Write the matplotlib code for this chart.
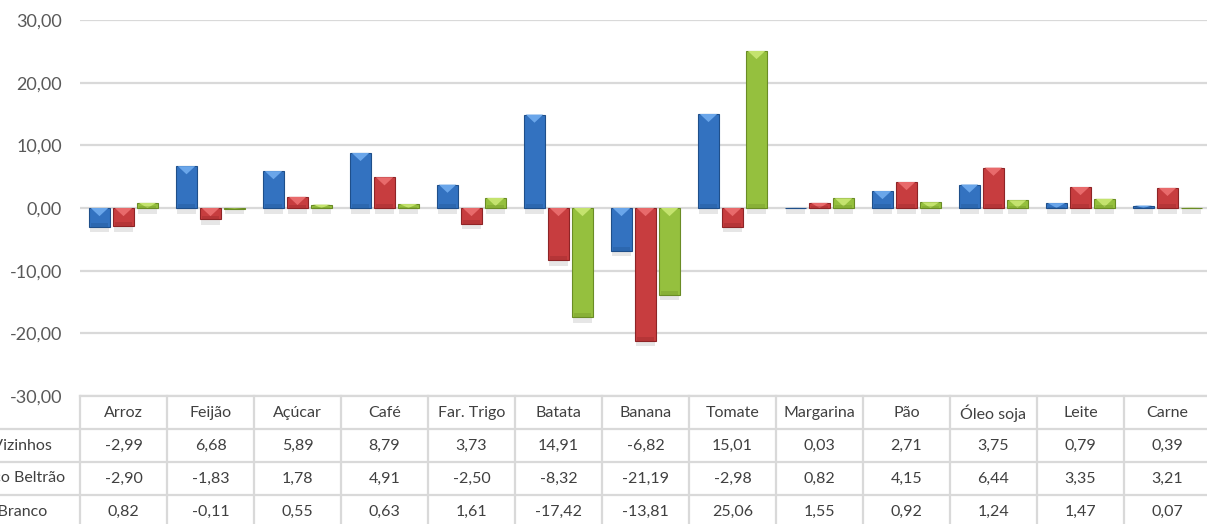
import numpy as np
import matplotlib

matplotlib.use("Agg")
import matplotlib.pyplot as plt
from matplotlib.patches import Polygon, Rectangle

plt.rcParams["font.family"] = ["Lato", "DejaVu Sans"]

# dados
produtos = ["Arroz", "Feijão", "Açúcar", "Café", "Far. Trigo", "Batata", "Banana",
            "Tomate", "Margarina", "Pão", "Óleo soja", "Leite", "Carne"]
cidades = ["Dois Vizinhos", "Francisco Beltrão", "Pato Branco"]
dois_vizinhos = [-2.99, 6.68, 5.89, 8.79, 3.73, 14.91, -6.82, 15.01, 0.03, 2.71, 3.75, 0.79, 0.39]
francisco_beltrao = [-2.90, -1.83, 1.78, 4.91, -2.50, -8.32, -21.19, -2.98, 0.82, 4.15, 6.44, 3.35, 3.21]
pato_branco = [0.82, -0.11, 0.55, 0.63, 1.61, -17.42, -13.81, 25.06, 1.55, 0.92, 1.24, 1.47, 0.07]
series = [dois_vizinhos, francisco_beltrao, pato_branco]

cores = ["#3372c0", "#c73d3f", "#95c03e"]
claras = ["#6aa6ea", "#e86a6b", "#c4e36e"]
escuras = ["#1f4f8a", "#8e2426", "#6a8c25"]

W, H = 1207, 524
fig = plt.figure(figsize=(W / 100, H / 100), dpi=100)
ax = fig.add_axes([80 / W, 128 / H, 1131 / W, 376 / H])

n = len(produtos)
x = np.arange(n) + 0.5
largura = 0.241
passo = 0.276

for i, vals in enumerate(series):
    pos = x + (i - 1) * passo
    bars = ax.bar(pos, vals, largura, color=cores[i], edgecolor=escuras[i], linewidth=0.8, zorder=3)
    for b in bars:
        bx, by, bw, bh = b.get_x(), b.get_y(), b.get_width(), b.get_height()
        topo = max(by, by + bh)
        base = min(by, by + bh)
        alt = abs(bh)
        # sombra
        ax.add_patch(Rectangle((bx + 0.01, base - 0.9), bw - 0.02, 0.9, color="#c8c8c8",
                               alpha=0.45, lw=0, zorder=2))
        # bisel claro no topo
        d = min(1.3, alt)
        ax.add_patch(Polygon([(bx + 0.02, topo), (bx + bw - 0.02, topo), (bx + bw / 2, topo - d)],
                             closed=True, color=claras[i], lw=0, zorder=4))
        # bisel escuro na base
        e = min(0.6, alt * 0.3)
        ax.add_patch(Rectangle((bx + 0.02, base), bw - 0.04, e, color=escuras[i],
                               alpha=0.3, lw=0, zorder=4))

ax.set_xlim(0, n)
ax.set_ylim(-30, 30)
ax.set_yticks(np.arange(-30, 31, 10))
ax.set_yticklabels([f"{v:.2f}".replace(".", ",") for v in np.arange(-30, 31, 10)],
                   fontsize=13, color="#595959")
ax.set_xticks([])
ax.tick_params(axis="y", length=0, pad=13)
ax.yaxis.grid(True, color="#d9d9d9", linewidth=1.6, zorder=0)
ax.set_axisbelow(True)
for s in ax.spines.values():
    s.set_visible(False)

# tabela de dados
tab = fig.add_axes([80 / W, (H - 396 - 4 * 33) / H, 1131 / W, 4 * 33 / H])
tab.set_xlim(0, n)
tab.set_ylim(4, 0)
tab.axis("off")
cor_linha = "#d9d9d9"
tab.plot([0, n], [0, 0], color=cor_linha, lw=1.6, clip_on=False)
for r in range(1, 5):
    tab.plot([-1.5, n], [r, r], color=cor_linha, lw=1.6, clip_on=False)
for c in range(n + 1):
    tab.plot([c, c], [0, 4], color=cor_linha, lw=1.6, clip_on=False)

for j, p in enumerate(produtos):
    tab.text(j + 0.5, 0.52, p, ha="center", va="center", fontsize=11.5, color="#404040")
for r, vals in enumerate(series):
    tab.text(-0.87, r + 1.5, cidades[r], ha="center", va="center", fontsize=11.5,
             color="#404040", clip_on=False)
    for j, v in enumerate(vals):
        tab.text(j + 0.5, r + 1.5, f"{v:.2f}".replace(".", ","), ha="center", va="center",
                 fontsize=11.5, color="#404040")

fig.savefig("out.png", dpi=100)
